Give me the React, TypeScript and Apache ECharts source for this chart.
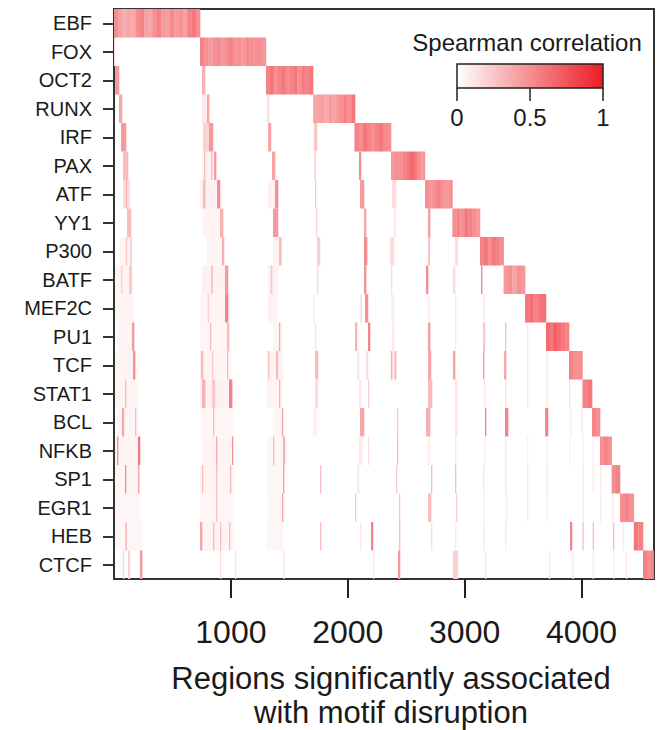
import React, { useEffect, useRef } from 'react';
import * as echarts from 'echarts';

const FONT = '"Liberation Sans", Arial, Helvetica, sans-serif';

const motifs = ['EBF', 'FOX', 'OCT2', 'RUNX', 'IRF', 'PAX', 'ATF', 'YY1', 'P300', 'BATF', 'MEF2C', 'PU1', 'TCF', 'STAT1', 'BCL', 'NFKB', 'SP1', 'EGR1', 'HEB', 'CTCF'];

// boundaries (region index) of each motif's own block of regions
const blockEdges = [0, 736, 1300, 1703, 2062, 2370, 2661, 2895, 3131, 3333, 3517, 3696, 3893, 4008, 4090, 4158, 4257, 4329, 4447, 4526, 4620];

// correlation shades across each motif's own block (left to right)
const blockShades: number[][] = [
  [0.5, 0.42, 0.36, 0.4, 0.38, 0.5, 0.55, 0.42, 0.4, 0.5, 0.55, 0.45, 0.42, 0.52, 0.45, 0.48, 0.42, 0.55, 0.6, 0.5],
  [0.55, 0.5, 0.45, 0.5, 0.52, 0.45, 0.5, 0.55, 0.48, 0.5, 0.45, 0.52, 0.5, 0.48, 0.5, 0.45],
  [0.55, 0.6, 0.5, 0.55, 0.6, 0.52, 0.55, 0.6, 0.5, 0.58, 0.55, 0.6],
  [0.38, 0.4, 0.42, 0.38, 0.45, 0.4, 0.45, 0.5, 0.55, 0.5, 0.6],
  [0.55, 0.5, 0.6, 0.55, 0.5, 0.55, 0.6, 0.52, 0.5],
  [0.45, 0.5, 0.5, 0.55, 0.6, 0.65, 0.6, 0.5, 0.45],
  [0.5, 0.45, 0.5, 0.55, 0.5, 0.45, 0.5],
  [0.5, 0.55, 0.5, 0.6, 0.55, 0.5, 0.45],
  [0.55, 0.6, 0.5, 0.6, 0.55, 0.5],
  [0.45, 0.5, 0.4, 0.5, 0.45],
  [0.6, 0.65, 0.55, 0.6, 0.62],
  [0.65, 0.6, 0.7, 0.65, 0.6, 0.55],
  [0.55, 0.5, 0.5],
  [0.55, 0.6],
  [0.55, 0.5],
  [0.5, 0.55, 0.5],
  [0.5, 0.55],
  [0.5, 0.55, 0.5],
  [0.6, 0.55],
  [0.55, 0.5, 0.55],
];

// correlations outside a motif's own block: [row, regionStart, regionEnd, rho]
const offStripes: [number, number, number, number][] = [
  [1, 0, 9, 0.15],
  [2, 9, 43, 0.45], [2, 753, 779, 0.35],
  [3, 43, 68, 0.4], [3, 753, 813, 0.1], [3, 796, 813, 0.4], [3, 1309, 1326, 0.15],
  [4, 60, 103, 0.45], [4, 761, 830, 0.2], [4, 813, 847, 0.45], [4, 1318, 1343, 0.4], [4, 1711, 1737, 0.25], [4, 2053, 2070, 0.3],
  [5, 77, 120, 0.3], [5, 753, 873, 0.06], [5, 770, 779, 0.3], [5, 830, 839, 0.3], [5, 856, 873, 0.45], [5, 1352, 1378, 0.4], [5, 1711, 1728, 0.15], [5, 2096, 2113, 0.5], [5, 2370, 2396, 0.15],
  [6, 77, 137, 0.15], [6, 100, 110, 0.35], [6, 736, 907, 0.06], [6, 760, 780, 0.3], [6, 881, 907, 0.5], [6, 1318, 1403, 0.06], [6, 1378, 1403, 0.5], [6, 1720, 1728, 0.25], [6, 2105, 2139, 0.45], [6, 2379, 2413, 0.15],
  [7, 111, 145, 0.3], [7, 761, 933, 0.05], [7, 907, 933, 0.35], [7, 1360, 1403, 0.45], [7, 1728, 1737, 0.2], [7, 2139, 2156, 0.4], [7, 2396, 2405, 0.15], [7, 2687, 2704, 0.45],
  [8, 51, 154, 0.05], [8, 100, 110, 0.25], [8, 140, 150, 0.25], [8, 796, 941, 0.05], [8, 924, 941, 0.35], [8, 1360, 1437, 0.06], [8, 1412, 1430, 0.3], [8, 1737, 1763, 0.2], [8, 2139, 2165, 0.5], [8, 2361, 2396, 0.15], [8, 2687, 2700, 0.3], [8, 2918, 2943, 0.15],
  [9, 9, 154, 0.05], [9, 60, 70, 0.2], [9, 130, 150, 0.25], [9, 753, 975, 0.06], [9, 830, 845, 0.25], [9, 950, 975, 0.45], [9, 1318, 1403, 0.06], [9, 1340, 1352, 0.25], [9, 1737, 1745, 0.2], [9, 2139, 2156, 0.5], [9, 2370, 2379, 0.15], [9, 2669, 2687, 0.5], [9, 2900, 2918, 0.15], [9, 3140, 3150, 0.5],
  [10, 9, 163, 0.05], [10, 736, 992, 0.05], [10, 800, 810, 0.2], [10, 950, 975, 0.55], [10, 1318, 1395, 0.06], [10, 1703, 1711, 0.1], [10, 2105, 2120, 0.12], [10, 2148, 2173, 0.5], [10, 2370, 2396, 0.08], [10, 2687, 2695, 0.1], [10, 2918, 2926, 0.1], [10, 3157, 3166, 0.1],
  [11, 26, 180, 0.05], [11, 154, 171, 0.45], [11, 736, 992, 0.04], [11, 821, 830, 0.3], [11, 967, 984, 0.3], [11, 1360, 1437, 0.05], [11, 1412, 1420, 0.4], [11, 1720, 1728, 0.12], [11, 2062, 2079, 0.35], [11, 2173, 2190, 0.55], [11, 2379, 2396, 0.1], [11, 2687, 2704, 0.45], [11, 2918, 2926, 0.1], [11, 3157, 3174, 0.25], [11, 3345, 3354, 0.3], [11, 3534, 3542, 0.12],
  [12, 9, 197, 0.05], [12, 163, 180, 0.5], [12, 736, 1001, 0.05], [12, 744, 761, 0.3], [12, 839, 847, 0.25], [12, 967, 975, 0.3], [12, 1309, 1446, 0.05], [12, 1318, 1326, 0.3], [12, 1386, 1403, 0.3], [12, 1720, 1745, 0.3], [12, 2079, 2096, 0.12], [12, 2156, 2173, 0.15], [12, 2361, 2413, 0.05], [12, 2370, 2380, 0.35], [12, 2400, 2413, 0.35], [12, 2687, 2712, 0.4], [12, 2900, 2918, 0.4], [12, 3157, 3166, 0.45], [12, 3337, 3354, 0.4], [12, 3534, 3542, 0.1], [12, 3700, 3710, 0.1],
  [13, 9, 205, 0.05], [13, 94, 103, 0.3], [13, 736, 1010, 0.06], [13, 753, 779, 0.35], [13, 839, 864, 0.25], [13, 984, 1010, 0.55], [13, 1309, 1437, 0.05], [13, 1412, 1420, 0.35], [13, 1720, 1745, 0.15], [13, 2096, 2113, 0.12], [13, 2173, 2182, 0.2], [13, 2687, 2721, 0.3], [13, 2918, 2935, 0.12], [13, 3166, 3174, 0.12], [13, 3345, 3354, 0.12], [13, 3534, 3542, 0.1], [13, 3700, 3710, 0.1], [13, 3893, 3901, 0.12],
  [14, 26, 205, 0.04], [14, 68, 85, 0.4], [14, 180, 188, 0.3], [14, 753, 1018, 0.04], [14, 847, 856, 0.3], [14, 1360, 1446, 0.04], [14, 1437, 1446, 0.4], [14, 1703, 1737, 0.06], [14, 2105, 2139, 0.4], [14, 2421, 2430, 0.25], [14, 2669, 2704, 0.35], [14, 2918, 2935, 0.12], [14, 3174, 3183, 0.55], [14, 3345, 3371, 0.55], [14, 3688, 3713, 0.55], [14, 3901, 3910, 0.1], [14, 4000, 4008, 0.1],
  [15, 9, 222, 0.05], [15, 26, 35, 0.5], [15, 205, 222, 0.6], [15, 753, 1018, 0.05], [15, 873, 881, 0.4], [15, 1010, 1018, 0.5], [15, 1309, 1463, 0.04], [15, 1360, 1369, 0.3], [15, 1446, 1463, 0.35], [15, 2096, 2122, 0.1], [15, 2173, 2182, 0.15], [15, 2421, 2430, 0.3], [15, 2687, 2695, 0.12], [15, 2918, 2926, 0.12], [15, 3166, 3174, 0.1], [15, 3345, 3354, 0.1], [15, 3534, 3542, 0.08], [15, 3700, 3710, 0.08], [15, 3893, 3901, 0.08], [15, 4008, 4016, 0.08], [15, 4095, 4103, 0.08],
  [16, 9, 222, 0.05], [16, 94, 103, 0.5], [16, 205, 214, 0.4], [16, 736, 1018, 0.05], [16, 753, 761, 0.3], [16, 873, 881, 0.3], [16, 992, 1001, 0.3], [16, 1309, 1463, 0.04], [16, 1446, 1455, 0.4], [16, 1763, 1771, 0.3], [16, 2079, 2096, 0.1], [16, 2413, 2421, 0.25], [16, 2712, 2721, 0.3], [16, 2918, 2926, 0.3], [16, 3157, 3166, 0.12], [16, 3345, 3354, 0.1], [16, 3534, 3542, 0.1], [16, 3700, 3710, 0.1], [16, 4008, 4016, 0.1], [16, 4095, 4103, 0.1], [16, 4158, 4166, 0.1],
  [17, 9, 222, 0.04], [17, 736, 1018, 0.04], [17, 873, 881, 0.3], [17, 1318, 1455, 0.04], [17, 1437, 1446, 0.4], [17, 2062, 2070, 0.25], [17, 2438, 2447, 0.25], [17, 2687, 2712, 0.3], [17, 2926, 2935, 0.2], [17, 3157, 3166, 0.08], [17, 3354, 3362, 0.1], [17, 3534, 3542, 0.1], [17, 3700, 3710, 0.08], [17, 4008, 4016, 0.1], [17, 4158, 4166, 0.1], [17, 4260, 4270, 0.1],
  [18, 9, 240, 0.04], [18, 94, 110, 0.25], [18, 736, 1018, 0.05], [18, 736, 753, 0.4], [18, 847, 856, 0.3], [18, 907, 915, 0.3], [18, 984, 992, 0.3], [18, 1309, 1446, 0.04], [18, 1763, 1771, 0.3], [18, 2105, 2113, 0.12], [18, 2199, 2216, 0.55], [18, 2438, 2447, 0.3], [18, 2712, 2721, 0.15], [18, 2918, 2926, 0.1], [18, 3157, 3166, 0.1], [18, 3345, 3354, 0.1], [18, 3901, 3918, 0.55], [18, 4008, 4016, 0.3], [18, 4095, 4103, 0.3], [18, 4270, 4278, 0.3], [18, 4350, 4358, 0.1],
  [19, 77, 85, 0.2], [19, 120, 137, 0.2], [19, 222, 240, 0.45], [19, 907, 915, 0.15], [19, 1035, 1043, 0.15], [19, 1446, 1455, 0.1], [19, 2216, 2224, 0.1], [19, 2430, 2447, 0.45], [19, 2900, 2943, 0.2], [19, 3174, 3183, 0.1], [19, 3720, 3730, 0.1], [19, 3920, 3930, 0.1], [19, 4095, 4103, 0.1], [19, 4270, 4278, 0.1], [19, 4380, 4388, 0.1],
];

const xMax = 4620;
const xTicks = [1000, 2000, 3000, 4000];
const legendTicks = [0, 0.5, 1];
const legendTitle = 'Spearman correlation';
const xTitleLines = ['Regions significantly associated', 'with motif disruption'];
const colorRange = ['#ffffff', '#ec1c24'];

export default function App() {
  const ref = useRef<HTMLDivElement>(null);
  useEffect(() => {
    if (!ref.current) return;
    const chart = echarts.init(ref.current, undefined, { renderer: 'svg' });

    const data: number[][] = [];
    const sortedOff = offStripes.slice().sort((a, b) => (b[2] - b[1]) - (a[2] - a[1]));
    sortedOff.forEach(([r, a, b, v]) => data.push([a, b, r, v]));
    motifs.forEach((_, i) => {
      const s = blockEdges[i];
      const e = blockEdges[i + 1];
      const shades = blockShades[i];
      const w = (e - s) / shades.length;
      shades.forEach((v, k) => data.push([s + k * w, s + (k + 1) * w, i, v]));
    });

    // legend geometry
    const lgX0 = 457, lgX1 = 603, lgY0 = 64, lgY1 = 88;
    const lgPos = (t: number) => lgX0 + (lgX1 - lgX0) * t;
    const graphicEls: any[] = [
      {
        type: 'text', x: 527, y: 42,
        style: { text: legendTitle, font: `24px ${FONT}`, fill: '#1a1a1a', align: 'center', verticalAlign: 'middle' },
      },
      {
        type: 'rect', shape: { x: lgX0, y: lgY0, width: lgX1 - lgX0, height: lgY1 - lgY0 },
        style: {
          fill: new echarts.graphic.LinearGradient(0, 0, 1, 0, [
            { offset: 0, color: colorRange[0] },
            { offset: 1, color: colorRange[1] },
          ]),
          stroke: '#222', lineWidth: 1.5,
        },
      },
    ];
    legendTicks.forEach((t) => {
      const x = lgPos(t);
      graphicEls.push({ type: 'line', shape: { x1: x, y1: lgY1, x2: x, y2: lgY1 + 13 }, style: { stroke: '#222', lineWidth: 1.5 } });
      graphicEls.push({
        type: 'text', x, y: 117,
        style: { text: String(t), font: `24px ${FONT}`, fill: '#1a1a1a', align: 'center', verticalAlign: 'middle' },
      });
    });
    xTitleLines.forEach((line, i) => {
      graphicEls.push({
        type: 'text', x: 391, y: 678 + i * 34,
        style: { text: line, font: `31px ${FONT}`, fill: '#1a1a1a', align: 'center', verticalAlign: 'middle' },
      });
    });

    chart.setOption({
      animation: false,
      backgroundColor: '#ffffff',
      grid: {
        left: 114, top: 9, width: 540, height: 570,
        show: true, borderColor: '#333', borderWidth: 2, backgroundColor: 'transparent',
        containLabel: false, outerBoundsMode: 'none',
      },
      visualMap: {
        show: false, type: 'continuous', min: 0, max: 1, dimension: 3, seriesIndex: 0,
        inRange: { color: colorRange },
      },
      xAxis: {
        type: 'value', min: 0, max: xMax, interval: 1000,
        splitLine: { show: false },
        axisLine: { show: true, onZero: false, lineStyle: { color: '#333', width: 2 } },
        axisTick: { show: true, length: 19, customValues: xTicks, lineStyle: { color: '#222', width: 2 } },
        axisLabel: {
          customValues: xTicks, fontSize: 32, fontFamily: FONT, color: '#1a1a1a', margin: 37,
          formatter: (v: number) => String(v),
        },
      },
      yAxis: {
        type: 'category', data: motifs, inverse: true,
        axisLine: { show: true, lineStyle: { color: '#333', width: 2 } },
        axisTick: { show: true, alignWithLabel: true, length: 11, lineStyle: { color: '#333', width: 2 } },
        axisLabel: { fontSize: 20, fontFamily: FONT, color: '#1a1a1a', margin: 22 },
        splitLine: { show: false },
      },
      graphic: graphicEls,
      series: [
        {
          type: 'custom',
          encode: { x: [0, 1], y: 2 },
          data,
          clip: true,
          renderItem: (params: any, api: any) => {
            const a = api.value(0);
            const b = api.value(1);
            const r = api.value(2);
            const p0 = api.coord([a, r]);
            const p1 = api.coord([b, r]);
            const h = api.size([0, 1])[1];
            return {
              type: 'rect',
              shape: { x: p0[0], y: p0[1] - h / 2, width: Math.max(p1[0] - p0[0], 0.8) + 0.3, height: h },
              style: { fill: api.visual('color') },
            };
          },
        },
      ],
    });
    return () => chart.dispose();
  }, []);
  return <div ref={ref} style={{ position: 'fixed', left: 0, top: 0, width: 663, height: 730 }} />;
}
